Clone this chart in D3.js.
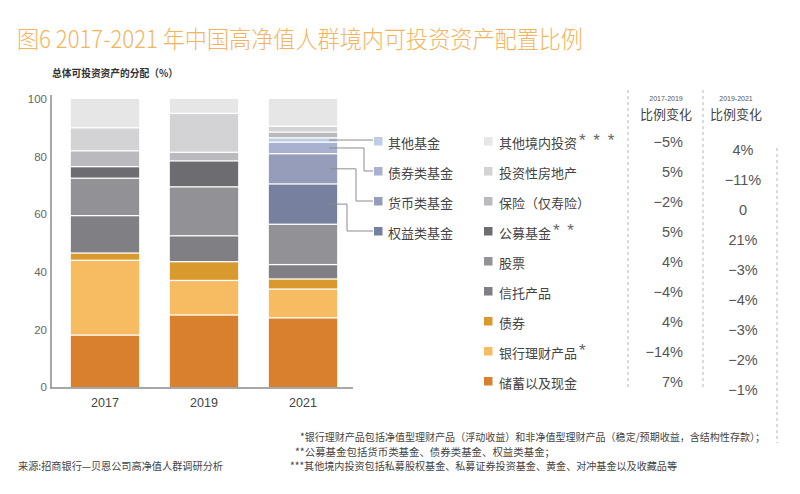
<!DOCTYPE html>
<html><head><meta charset="utf-8">
<script src="https://cdn.jsdelivr.net/npm/d3@7"></script>
<style>
html,body{margin:0;padding:0;background:#fff;}
svg{display:block;}
text{font-family:"Noto Sans CJK SC","Noto Sans",sans-serif;}
.num{font-family:"Liberation Sans",Arial,sans-serif;}
</style></head>
<body>
<svg id="chart" width="800" height="494"></svg>
<script>
// ---------- data ----------
const years = ["2017", "2019", "2021"];
const savings       = [18, 25, 24];
const bankWealth    = [26, 12, 10];
const bonds         = [2.5, 6.5, 3.5];
const trust         = [13, 9, 5];
const stocks        = [13, 17, 14];
const publicFunds   = [4, 9, 0];      // 2021 shown split into fund types
const equityFunds   = [0, 0, 14];
const moneyFunds    = [0, 0, 10.5];
const bondFunds     = [0, 0, 4];
const otherFunds    = [0, 0, 1.5];
const insurance     = [5.5, 3, 2];
const realEstate    = [8, 13.5, 2];
const otherDomestic = [10, 5, 9.5];

const yTicks = [0, 20, 40, 60, 80, 100];

const mainLabels = ["其他境内投资", "投资性房地产", "保险（仅寿险）", "公募基金", "股票", "信托产品", "债券", "银行理财产品", "储蓄以及现金"];
const mainMarks  = ["* * *", "", "", "* *", "", "", "", "*", ""];
const fundLabels = ["其他基金", "债券类基金", "货币类基金", "权益类基金"];
const change1719 = ["−5%", "5%", "−2%", "5%", "4%", "−4%", "4%", "−14%", "7%"];
const change1921 = ["4%", "−11%", "0", "21%", "−3%", "−4%", "−3%", "−2%", "−1%"];

// ---------- styling ----------
const seriesDefs = [
  {key: "savings", vals: savings, color: "#D9802F"},
  {key: "bankWealth", vals: bankWealth, color: "#F7BC61"},
  {key: "bonds", vals: bonds, color: "#D8992D"},
  {key: "trust", vals: trust, color: "#7F7F84"},
  {key: "stocks", vals: stocks, color: "#929296"},
  {key: "publicFunds", vals: publicFunds, color: "#6C6C71"},
  {key: "equityFunds", vals: equityFunds, color: "#7880A0"},
  {key: "moneyFunds", vals: moneyFunds, color: "#959DBB"},
  {key: "bondFunds", vals: bondFunds, color: "#A8B2D0"},
  {key: "otherFunds", vals: otherFunds, color: "#BECDE6"},
  {key: "insurance", vals: insurance, color: "#B9B9BE"},
  {key: "realEstate", vals: realEstate, color: "#D3D3D5"},
  {key: "otherDomestic", vals: otherDomestic, color: "#E6E6E7"}
];
const colorOf = Object.fromEntries(seriesDefs.map(d => [d.key, d.color]));
const mainKeys = ["otherDomestic", "realEstate", "insurance", "publicFunds", "stocks", "trust", "bonds", "bankWealth", "savings"];
const fundKeys = ["otherFunds", "bondFunds", "moneyFunds", "equityFunds"];

const svg = d3.select("#chart");

// title
svg.append("text").attr("x", 17).attr("y", 37).attr("dominant-baseline", "central")
  .attr("font-size", 24).attr("fill", "#F4B45E").attr("font-weight", 300)
  .attr("textLength", 566).attr("lengthAdjust", "spacingAndGlyphs")
  .text("图6 2017-2021 年中国高净值人群境内可投资资产配置比例");

svg.append("text").attr("x", 52).attr("y", 72).attr("dominant-baseline", "central")
  .attr("font-size", 10.5).attr("font-weight", "bold").attr("fill", "#333")
  .attr("textLength", 126).attr("lengthAdjust", "spacingAndGlyphs")
  .text("总体可投资资产的分配（%）");

// scales
const table = years.map((y, i) => {
  const row = {year: y};
  seriesDefs.forEach(s => row[s.key] = s.vals[i]);
  return row;
});
const x = d3.scaleBand().domain(years).range([56, 352]).paddingInner(0.31).paddingOuter(0.15);
const y = d3.scaleLinear().domain([0, 100]).range([387, 99]);

const stack = d3.stack().keys(seriesDefs.map(d => d.key));
const layers = stack(table);

const gap = 1.3;
const gBars = svg.append("g");
layers.forEach(layer => {
  gBars.selectAll(null).data(layer.filter(d => d[1] - d[0] > 0)).enter().append("rect")
    .attr("x", d => x(d.data.year))
    .attr("width", x.bandwidth())
    .attr("y", d => y(d[1]) + (d[1] >= 100 ? 0 : gap / 2))
    .attr("height", d => y(d[0]) - y(d[1]) - (d[1] >= 100 ? gap / 2 : gap) + (d[0] <= 0 ? gap / 2 : 0))
    .attr("fill", colorOf[layer.key]);
});

// axes
const yAxis = d3.axisLeft(y).tickValues(yTicks).tickSize(0).tickPadding(4);
const gy = svg.append("g").attr("transform", "translate(51,0)").call(yAxis);
gy.select(".domain").remove();
gy.selectAll("text").attr("class", "num").attr("font-size", 11.5).attr("fill", "#666");

const xAxis = d3.axisBottom(x).tickSize(0).tickPadding(10);
const gx = svg.append("g").attr("transform", "translate(0,388)").call(xAxis);
gx.select(".domain").remove();
gx.selectAll("text").attr("class", "num").attr("font-size", 12.5).attr("fill", "#444");

svg.append("line").attr("x1", 51).attr("x2", 51).attr("y1", 95).attr("y2", 388.5)
  .attr("stroke", "#8a8a8a").attr("stroke-width", 1.5);
svg.append("line").attr("x1", 50.25).attr("x2", 353).attr("y1", 388).attr("y2", 388)
  .attr("stroke", "#8a8a8a").attr("stroke-width", 1.5);

// legend (main)
const rowY = i => 141 + i * 30;
const gLeg = svg.append("g");
mainKeys.forEach((k, i) => {
  gLeg.append("rect").attr("x", 484).attr("y", rowY(i) - 4).attr("width", 8.5).attr("height", 8.5).attr("fill", colorOf[k]);
  const t = gLeg.append("text").attr("x", 499).attr("y", rowY(i) + 1).attr("dominant-baseline", "central")
    .attr("font-size", 13).attr("fill", "#444");
  t.append("tspan").text(mainLabels[i]);
  if (mainMarks[i]) {
    t.append("tspan").attr("class", "num").attr("dx", 2).attr("dy", -2)
      .attr("font-size", 17).attr("letter-spacing", 1.5).attr("fill", "#666")
      .style("white-space", "pre").text(mainMarks[i]);
  }
});

// legend (funds) with connectors
const x2021 = x("2021");
const turnX = [null, 364, 356, 347];
fundKeys.forEach((k, i) => {
  const ly = rowY(i);
  gLeg.append("rect").attr("x", 374).attr("y", ly - 4).attr("width", 8.5).attr("height", 8.5).attr("fill", colorOf[k]);
  gLeg.append("text").attr("x", 388).attr("y", ly + 1).attr("dominant-baseline", "central")
    .attr("font-size", 13).attr("fill", "#444").text(fundLabels[i]);
  const s = layers.find(l => l.key === k)[2];
  const my = y((s[0] + s[1]) / 2);
  const sx = x2021 + x.bandwidth() - 8;
  let path;
  if (turnX[i] === null) path = `M${sx},${my}H373`;
  else path = `M${sx},${my}H${turnX[i]}V${ly}H373`;
  gLeg.append("path").attr("d", path).attr("fill", "none").attr("stroke", "#8c8c8c").attr("stroke-width", 1);
});

// change columns
const dash = {stroke: "#b5b5b5", "stroke-width": 1, "stroke-dasharray": "3,3"};
function dashed(x0, y0, y1) {
  const l = svg.append("line").attr("x1", x0).attr("x2", x0).attr("y1", y0).attr("y2", y1);
  Object.entries(dash).forEach(([k, v]) => l.attr(k, v));
}
dashed(628, 90, 388);
dashed(703, 90, 388);
dashed(777, 148, 443);

[["2017-2019", 666], ["2019-2021", 736]].forEach(([t, cx]) => {
  svg.append("text").attr("class", "num").attr("x", cx).attr("y", 98).attr("text-anchor", "middle")
    .attr("dominant-baseline", "central").attr("font-size", 7).attr("fill", "#555").text(t);
  svg.append("text").attr("x", cx).attr("y", 113).attr("text-anchor", "middle")
    .attr("dominant-baseline", "central").attr("font-size", 13).attr("fill", "#444").text("比例变化");
});

change1719.forEach((t, i) => {
  svg.append("text").attr("class", "num").attr("x", 683).attr("y", 142 + i * 30)
    .attr("text-anchor", "end").attr("dominant-baseline", "central")
    .attr("font-size", 14.5).attr("fill", "#555").text(t);
});
change1921.forEach((t, i) => {
  svg.append("text").attr("class", "num").attr("x", 743).attr("y", 149.5 + i * 30)
    .attr("text-anchor", "middle").attr("dominant-baseline", "central")
    .attr("font-size", 14.5).attr("fill", "#555").text(t);
});

// footnotes
const notes = [
  {t: "*银行理财产品包括净值型理财产品（浮动收益）和非净值型理财产品（稳定/预期收益，含结构性存款）；", x: 300, y: 436, w: 465},
  {t: "**公募基金包括货币类基金、债券类基金、权益类基金；", x: 295, y: 451, w: 260},
  {t: "***其他境内投资包括私募股权基金、私募证券投资基金、黄金、对冲基金以及收藏品等", x: 290, y: 465, w: 387},
  {t: "来源:招商银行—贝恩公司高净值人群调研分析", x: 18, y: 465, w: 205}
];
notes.forEach(n => {
  svg.append("text").attr("x", n.x).attr("y", n.y).attr("dominant-baseline", "central")
    .attr("font-size", 10.5).attr("fill", "#444")
    .attr("textLength", n.w).attr("lengthAdjust", "spacingAndGlyphs").text(n.t);
});
</script>
</body></html>
